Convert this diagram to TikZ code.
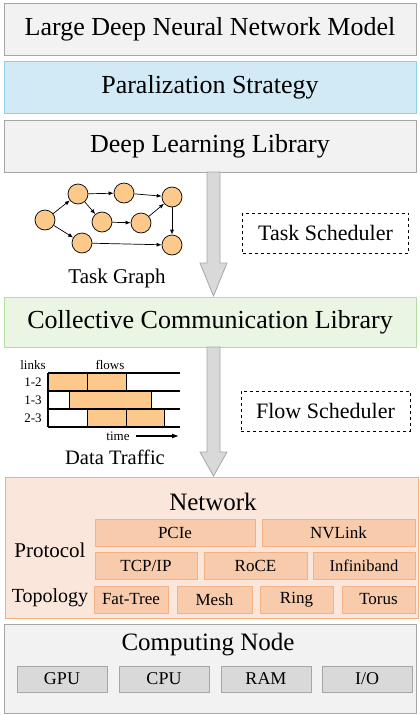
\documentclass[tikz,border=0pt]{standalone}
\usepackage{fontspec}
\setmainfont{Liberation Serif}
\usetikzlibrary{arrows.meta}

\definecolor{grayfill}{HTML}{F2F2F2}
\definecolor{grayline}{HTML}{A6A6A6}
\definecolor{bluefill}{HTML}{D2EAF6}
\definecolor{blueline}{HTML}{92CDEC}
\definecolor{greenfill}{HTML}{EAF5E3}
\definecolor{greenline}{HTML}{B0DE9C}
\definecolor{netfill}{HTML}{FBE6DB}
\definecolor{netline}{HTML}{F4B183}
\definecolor{itemfill}{HTML}{F8CBAD}
\definecolor{taskfill}{HTML}{FCC98B}
\definecolor{arrowfill}{HTML}{D9D9D9}
\definecolor{hwfill}{HTML}{D9D9D9}

\begin{document}
\begin{tikzpicture}[x=1pt,y=-1pt,line width=.8pt,
    layer/.style={draw=grayline,fill=grayfill,inner sep=0pt,font=\fontsize{26}{30}\selectfont},
    sched/.style={draw,dashed,inner sep=0pt,minimum width=166,minimum height=40,font=\fontsize{22}{26}\selectfont},
    task/.style={draw,circle,fill=taskfill,minimum size=20,inner sep=0pt,line width=.7pt},
    dep/.style={-{Latex[length=5pt,width=4pt]},line width=.7pt},
    item/.style={draw=netline,fill=itemfill,inner sep=0pt,minimum height=27,font=\fontsize{17}{20}\selectfont},
    hw/.style={draw=grayline,fill=hwfill,inner sep=0pt,minimum width=90,minimum height=26,font=\fontsize{18}{22}\selectfont},
    flow/.style={draw,fill=taskfill,line width=1pt},
    bigarrow/.style={draw=grayline,fill=arrowfill,line width=.8pt}]
  \useasboundingbox (0,0) rectangle (420,715);

  % layers on top
  \node[layer,minimum width=412,minimum height=52] (model) at (210,29) {Large Deep Neural Network Model};
  \node[layer,draw=blueline,fill=bluefill,minimum width=412,minimum height=52] (strategy) at (210,87) {Paralization Strategy};
  \node[layer,minimum width=412,minimum height=52] (dllib) at (210,146) {Deep Learning Library};

  % arrow through the task graph part
  \draw[bigarrow] (207,172) -- (220,172) -- (220,263) -- (227,263) -- (213.5,296)
    -- (200,263) -- (207,263) -- cycle;

  % task graph
  \node[task] (T1) at (45,220) {};
  \node[task] (T2) at (78,194) {};
  \node[task] (T3) at (124,193) {};
  \node[task] (T4) at (172,197) {};
  \node[task] (T5) at (102,222) {};
  \node[task] (T6) at (141,223) {};
  \node[task] (T7) at (82,243) {};
  \node[task] (T8) at (172,245) {};
  \draw[dep] (T1) -- (T2);
  \draw[dep] (T1) -- (T7);
  \draw[dep] (T2) -- (T3);
  \draw[dep] (T2) -- (T5);
  \draw[dep] (T3) -- (T4);
  \draw[dep] (T5) -- (T6);
  \draw[dep] (T6) -- (T4);
  \draw[dep] (T4) -- (T8);
  \draw[dep] (T7) -- (T8);
  \node[font=\fontsize{21}{25}\selectfont] (tgraph) at (117,278) {Task Graph};
  \node[sched] (tsched) at (325.5,233) {Task Scheduler};

  \node[layer,draw=greenline,fill=greenfill,minimum width=412,minimum height=50] (ccl) at (210,322) {Collective Communication Library};

  % arrow through the data traffic part
  \draw[bigarrow] (207,347) -- (220,347) -- (220,452) -- (227,452) -- (213.5,476)
    -- (200,452) -- (207,452) -- cycle;

  % data traffic
  \node[font=\fontsize{13}{15}\selectfont] (links) at (33,365) {links};
  \node[font=\fontsize{13}{15}\selectfont] (flows) at (110,365) {flows};
  \draw[flow] (48,373) rectangle (87,391);
  \draw[flow] (87,373) rectangle (126,391);
  \draw[flow] (69,391) rectangle (151,409);
  \draw[flow] (87,409) rectangle (126,427);
  \draw[flow] (126,409) rectangle (164,427);
  \draw[line width=1.2pt] (48,373) -- (180,373);
  \draw[line width=1.2pt] (48,391) -- (180,391);
  \draw[line width=1.2pt] (48,409) -- (180,409);
  \draw[line width=1.2pt] (48,427) -- (180,427);
  \draw[line width=1.2pt] (48,373) -- (48,427);
  \node[font=\fontsize{13}{15}\selectfont] (l12) at (33,382) {1-2};
  \node[font=\fontsize{13}{15}\selectfont] (l13) at (33,400) {1-3};
  \node[font=\fontsize{13}{15}\selectfont] (l23) at (33,418) {2-3};
  \node[font=\fontsize{13}{15}\selectfont] (time) at (118,436) {time};
  \coordinate (tend) at (179,436);
  \draw[-{Latex[length=7pt,width=5pt]},line width=1.2pt] (136,436) -- (tend);
  \node[font=\fontsize{20.5}{24}\selectfont] (traffic) at (115,457) {Data Traffic};
  \node[sched,minimum width=169] (fsched) at (325.5,411) {Flow Scheduler};

  % network
  \node[layer,draw=netline,fill=netfill,minimum width=413,minimum height=141] (net) at (211.5,547.5) {};
  \node[font=\fontsize{25}{30}\selectfont] (nettitle) at (213,502) {Network};
  \node[font=\fontsize{21}{25}\selectfont] (proto) at (50,550) {Protocol};
  \node[font=\fontsize{20}{24}\selectfont] (topo) at (50,598) {Topology};
  \node[item,minimum width=160] (pcie) at (175,532.5) {PCIe};
  \node[item,minimum width=153] (nvlink) at (338.5,532.5) {NVLink};
  \node[item,minimum width=102] (tcpip) at (146,566) {TCP/IP};
  \node[item,minimum width=103] (roce) at (255.5,566) {RoCE};
  \node[item,minimum width=102,font=\fontsize{16.5}{20}\selectfont] (ib) at (364,566) {Infiniband};
  \node[item,minimum width=74] (fattree) at (131,599.5) {Fat-Tree};
  \node[item,minimum width=75] (mesh) at (214.5,599.5) {Mesh};
  \node[item,minimum width=73] (ring) at (296.5,599.5) {Ring};
  \node[item,minimum width=73] (torus) at (378.5,599.5) {Torus};

  % computing node
  \node[layer,minimum width=412,minimum height=89] (cnode) at (210,668.5) {};
  \node[font=\fontsize{25}{30}\selectfont] (cntitle) at (208,645) {Computing Node};
  \node[hw] (gpu) at (62,679) {GPU};
  \node[hw] (cpu) at (164,679) {CPU};
  \node[hw] (ram) at (266,679) {RAM};
  \node[hw] (io) at (367,679) {I/O};
\end{tikzpicture}
\end{document}
